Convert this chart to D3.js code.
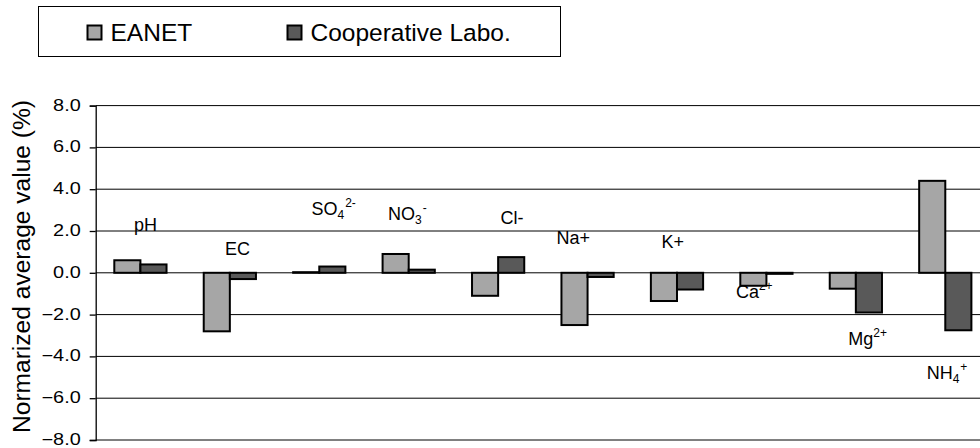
<!DOCTYPE html>
<html>
<head>
<meta charset="utf-8">
<script src="https://cdn.jsdelivr.net/npm/d3@7"></script>
<style>
  html, body { margin: 0; padding: 0; background: #fff; }
  svg { display: block; font-family: "Liberation Sans", Arial, sans-serif; }
</style>
</head>
<body>
<svg id="chart" width="980" height="448"></svg>
<script>
// ---- data ----
const categories = ["pH", "EC", "SO4", "NO3", "Cl-", "Na+", "K+", "Ca2+", "Mg2+", "NH4+"];
const seriesNames = ["EANET", "Cooperative Labo."];
const eanetValues = [0.6, -2.8, 0.03, 0.9, -1.1, -2.5, -1.35, -0.62, -0.76, 4.4];
const coopValues  = [0.4, -0.3, 0.3, 0.15, 0.75, -0.2, -0.8, -0.05, -1.9, -2.75];
const yTickValues = [-8, -6, -4, -2, 0, 2, 4, 6, 8];
const yAxisTitle = "Normarized average value (%)";
// label text pieces: [text, kind]
const labelParts = [
  [["pH", "n"]],
  [["EC", "n"]],
  [["SO", "n"], ["4", "sub"], ["2-", "sup"]],
  [["NO", "n"], ["3", "sub"], ["-", "sup"]],
  [["Cl-", "n"]],
  [["Na+", "n"]],
  [["K+", "n"]],
  [["Ca", "n"], ["2+", "sup"]],
  [["Mg", "n"], ["2+", "sup"]],
  [["NH", "n"], ["4", "sub"], ["+", "sup"]]
];
// label anchors: horizontal offset from band centre (px), vertical anchor in data units
const labelDx = [-6.4, -4.8, -7.8, -20.6, 2.4, -31, -15.4, -30.5, -7.6, -18.6];
const labelYVal = [2.02, 0.86, 2.77, 2.53, 2.33, 1.37, 1.18, -1.19, -3.44, -5.08];

const colors = ["#a6a6a6", "#595959"];

// ---- layout ----
const svg = d3.select("#chart");
const plot = { left: 95.7, right: 990, top: 105.6, bottom: 440 };

const x = d3.scaleBand().domain(categories).range([plot.left, plot.right]).paddingInner(0).paddingOuter(0);
const bw = x.bandwidth();
const barW = bw * 0.292;
const xs = d3.scaleBand().domain(seriesNames).range([bw / 2 - barW, bw / 2 + barW]);
const y = d3.scaleLinear().domain([-8, 8]).range([plot.bottom, plot.top]);

// gridlines
svg.append("g").selectAll("line").data(yTickValues).join("line")
  .attr("x1", plot.left).attr("x2", 980)
  .attr("y1", d => y(d)).attr("y2", d => y(d))
  .attr("stroke", "#000").attr("stroke-width", 1);

// y axis
const yAxis = d3.axisLeft(y).tickValues(yTickValues).tickFormat(d3.format(".1f")).tickSize(6).tickPadding(9);
const gy = svg.append("g").attr("transform", `translate(${plot.left},0)`).call(yAxis);
gy.select(".domain").attr("stroke", "#000").attr("stroke-width", 1.3);
gy.selectAll(".tick line").attr("stroke", "#000").attr("stroke-width", 1.3);
gy.selectAll(".tick text")
  .attr("font-size", 16).attr("fill", "#000").attr("dy", "0.28em")
  .attr("font-family", "Liberation Sans, Arial, sans-serif")
  .each(function () {
    const w = this.getComputedTextLength();
    d3.select(this).attr("textLength", w * 1.24).attr("lengthAdjust", "spacingAndGlyphs");
  });

// y axis title
svg.append("text")
  .attr("transform", `translate(30,${(100 + 433) / 2}) rotate(-90)`)
  .attr("text-anchor", "middle")
  .attr("font-size", 23)
  .attr("textLength", 333).attr("lengthAdjust", "spacingAndGlyphs")
  .attr("fill", "#000")
  .text(yAxisTitle);

// category labels (drawn before bars)
const lab = svg.append("g").attr("font-size", 18).attr("fill", "#000");
categories.forEach((c, i) => {
  const t = lab.append("text")
    .attr("x", x(c) + bw / 2 + labelDx[i])
    .attr("y", y(labelYVal[i]));
  let prev = "n";
  labelParts[i].forEach(([txt, kind]) => {
    const shift = { n: 0, sub: 4, sup: -8 };
    const dy = shift[kind] - shift[prev];
    t.append("tspan")
      .attr("dy", dy)
      .attr("dx", kind === "sup" && prev === "sub" ? 1 : 0)
      .attr("font-size", kind === "n" ? 18 : 12)
      .text(txt);
    prev = kind;
  });
});

// bars
const rows = categories.map((c, i) => ({ c, vals: [eanetValues[i], coopValues[i]] }));
const groups = svg.append("g").selectAll("g").data(rows).join("g")
  .attr("transform", d => `translate(${x(d.c)},0)`);
groups.selectAll("rect").data(d => d.vals.map((v, j) => ({ s: seriesNames[j], v, j }))).join("rect")
  .attr("x", d => xs(d.s))
  .attr("width", xs.bandwidth())
  .attr("y", d => y(Math.max(0, d.v)))
  .attr("height", d => Math.abs(y(d.v) - y(0)))
  .attr("fill", d => colors[d.j])
  .attr("stroke", "#000")
  .attr("stroke-width", 2);

// legend
const leg = svg.append("g");
leg.append("rect").attr("x", 38.5).attr("y", 6.5).attr("width", 522).attr("height", 50)
  .attr("fill", "#fff").attr("stroke", "#000").attr("stroke-width", 1);
const legX = [87.5, 287.5];
seriesNames.forEach((s, j) => {
  leg.append("rect").attr("x", legX[j]).attr("y", 25.5).attr("width", 14).attr("height", 14)
    .attr("fill", colors[j]).attr("stroke", "#000").attr("stroke-width", 2);
  leg.append("text").attr("x", legX[j] + 23).attr("y", 40.5)
    .attr("font-size", 24.5).attr("fill", "#000").text(s);
});
</script>
</body>
</html>
